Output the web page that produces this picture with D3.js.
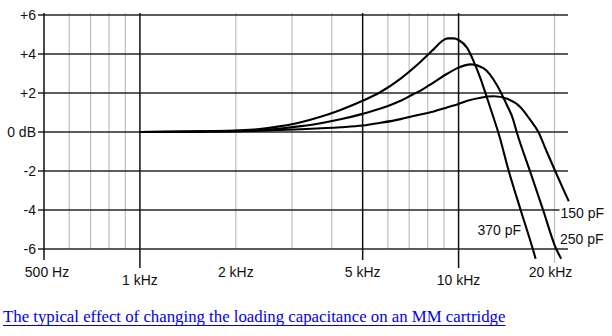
<!DOCTYPE html>
<html>
<head>
<meta charset="utf-8">
<script src="https://cdn.jsdelivr.net/npm/d3@7/dist/d3.min.js"></script>
<style>
  html, body { margin: 0; padding: 0; background: #fff; }
  svg { display: block; }
</style>
</head>
<body>
<svg id="chart" width="612" height="336"></svg>
<script>
// Frequency response of an MM cartridge for three loading capacitances (dB vs Hz)
const series370Freq = [1000, 1550, 2280, 2770, 3200, 3690, 4260, 5000, 5690, 6580, 7600, 8360, 8850, 9240, 9650, 10000, 10650, 11170, 11720, 12300, 12900, 13370, 14370, 15660, 17100, 17450];
const series370Db   = [0, 0.03, 0.12, 0.3, 0.5, 0.78, 1.13, 1.6, 2.05, 2.74, 3.6, 4.25, 4.65, 4.8, 4.8, 4.72, 4.3, 3.6, 2.74, 1.72, 0.69, -0.1, -2, -4, -6, -6.5];

const series250Freq = [1000, 1550, 2280, 2770, 3200, 3690, 4260, 5000, 5690, 6580, 7230, 7600, 8360, 9240, 10000, 10900, 12000, 13200, 14200, 14800, 15220, 16750, 18420, 20250, 21000];
const series250Db   = [0, 0.02, 0.08, 0.18, 0.3, 0.45, 0.65, 0.93, 1.2, 1.6, 1.95, 2.12, 2.55, 3.0, 3.3, 3.47, 3.26, 2.4, 1.36, 0.69, 0, -2, -4, -6, -6.5];

const series150Freq = [1000, 1550, 2280, 3200, 4260, 5000, 5690, 6580, 7230, 8360, 9240, 10000, 10650, 11720, 12900, 14200, 15640, 16700, 17800, 18900, 20100, 21200, 22170];
const series150Db   = [0, 0.02, 0.06, 0.14, 0.24, 0.33, 0.47, 0.66, 0.82, 1.05, 1.27, 1.44, 1.6, 1.76, 1.83, 1.7, 1.27, 0.67, 0, -1.0, -2, -2.85, -3.55];

const seriesNames = ["370 pF", "250 pF", "150 pF"];

const yTicks  = [-6, -4, -2, 0, 2, 4, 6];
const yLabels = ["-6", "-4", "-2", "0 dB", "+2", "+4", "+6"];

const xTicks  = [500, 1000, 2000, 5000, 10000, 20000];
const xLabels = ["500 Hz", "1 kHz", "2 kHz", "5 kHz", "10 kHz", "20 kHz"];

const minorFreqs = [600, 700, 800, 900, 2000, 3000, 4000, 6000, 7000, 8000, 9000, 20000];
const majorFreqs = [1000, 5000, 10000];

const caption = "The typical effect of changing the loading capacitance on an MM cartridge";

const svg = d3.select("#chart");
const x = d3.scaleLog().domain([500, 20000]).range([44, 554.5]);
const y = d3.scaleLinear().domain([-6, 6]).range([249, 15]);
const gridRight = 568;
const gridTop = 13;
const font = "'Liberation Sans', Arial, sans-serif";

// vertical grid: minor (grey) then major (black)
svg.append("g").selectAll("line").data(minorFreqs).join("line")
  .attr("x1", d => x(d)).attr("x2", d => x(d))
  .attr("y1", gridTop).attr("y2", d => d === 20000 ? 263 : y(-6))
  .attr("stroke", "#bdbdbd").attr("stroke-width", 1.2);

// horizontal grid
svg.append("g").selectAll("line").data(yTicks).join("line")
  .attr("x1", x(500) - 6).attr("x2", gridRight)
  .attr("y1", d => y(d)).attr("y2", d => y(d))
  .attr("stroke", "#262626").attr("stroke-width", 1.4);

// y axis and major frequency lines with their ticks
const majorBottom = { 500: 260, 1000: 268, 5000: 260, 10000: 268 };
svg.append("g").selectAll("line").data([500].concat(majorFreqs)).join("line")
  .attr("x1", d => x(d)).attr("x2", d => x(d))
  .attr("y1", gridTop).attr("y2", d => majorBottom[d])
  .attr("stroke", "#111").attr("stroke-width", 1.5);

// y tick labels
svg.append("g").selectAll("text").data(yTicks).join("text")
  .attr("x", x(500) - 8).attr("y", d => y(d))
  .attr("dy", "0.35em")
  .attr("text-anchor", "end")
  .attr("font-family", font).attr("font-size", 14).attr("fill", "#111")
  .text((d, i) => yLabels[i]);

// x tick labels, staggered in two rows
const lowerRow = new Set([1000, 10000]);
const xLabelShift = { 500: 3, 1000: 0, 2000: 0, 5000: 0, 10000: 0, 20000: -4 };
svg.append("g").selectAll("text").data(xTicks).join("text")
  .attr("x", d => x(d) + xLabelShift[d])
  .attr("y", d => lowerRow.has(d) ? 285 : 277)
  .attr("text-anchor", "middle")
  .attr("font-family", font).attr("font-size", 14).attr("fill", "#111")
  .text((d, i) => xLabels[i]);

// response curves
const curves = [
  { name: seriesNames[0], freq: series370Freq, db: series370Db },
  { name: seriesNames[1], freq: series250Freq, db: series250Db },
  { name: seriesNames[2], freq: series150Freq, db: series150Db }
];
const line = d3.line()
  .x(d => x(d[0]))
  .y(d => y(d[1]))
  .curve(d3.curveMonotoneX);

svg.append("g").selectAll("path").data(curves).join("path")
  .attr("d", c => line(c.freq.map((f, i) => [f, c.db[i]])))
  .attr("fill", "none")
  .attr("stroke", "#000")
  .attr("stroke-width", 2.1)
  .attr("stroke-linejoin", "round");

// curve labels with white backing
const labelPos = [
  { name: seriesNames[0], lx: 477.5, ly: 230 },
  { name: seriesNames[1], lx: 560, ly: 239 },
  { name: seriesNames[2], lx: 560.5, ly: 213 }
];
const lg = svg.append("g");
labelPos.forEach(p => {
  const t = lg.append("text")
    .attr("x", p.lx).attr("y", p.ly).attr("dy", "0.35em")
    .attr("font-family", font).attr("font-size", 14).attr("fill", "#111")
    .text(p.name);
  const b = t.node().getBBox();
  lg.insert("rect", "text")
    .attr("x", b.x - 1).attr("y", b.y + 2).attr("width", b.width + 2).attr("height", b.height - 4)
    .attr("fill", "#fff");
});

// caption link
const cap = svg.append("text")
  .attr("x", 3).attr("y", 322)
  .attr("font-family", "'Liberation Serif', 'DejaVu Serif', serif")
  .attr("font-size", 17)
  .attr("fill", "#0000ee")
  .text(caption);
const capW = cap.node().getComputedTextLength();
cap.attr("font-size", 17 * 503 / capW);
const capW2 = cap.node().getComputedTextLength();
svg.append("line")
  .attr("x1", 3).attr("x2", 3 + capW2)
  .attr("y1", 325.5).attr("y2", 325.5)
  .attr("stroke", "#0000ee").attr("stroke-width", 1);
</script>
</body>
</html>
